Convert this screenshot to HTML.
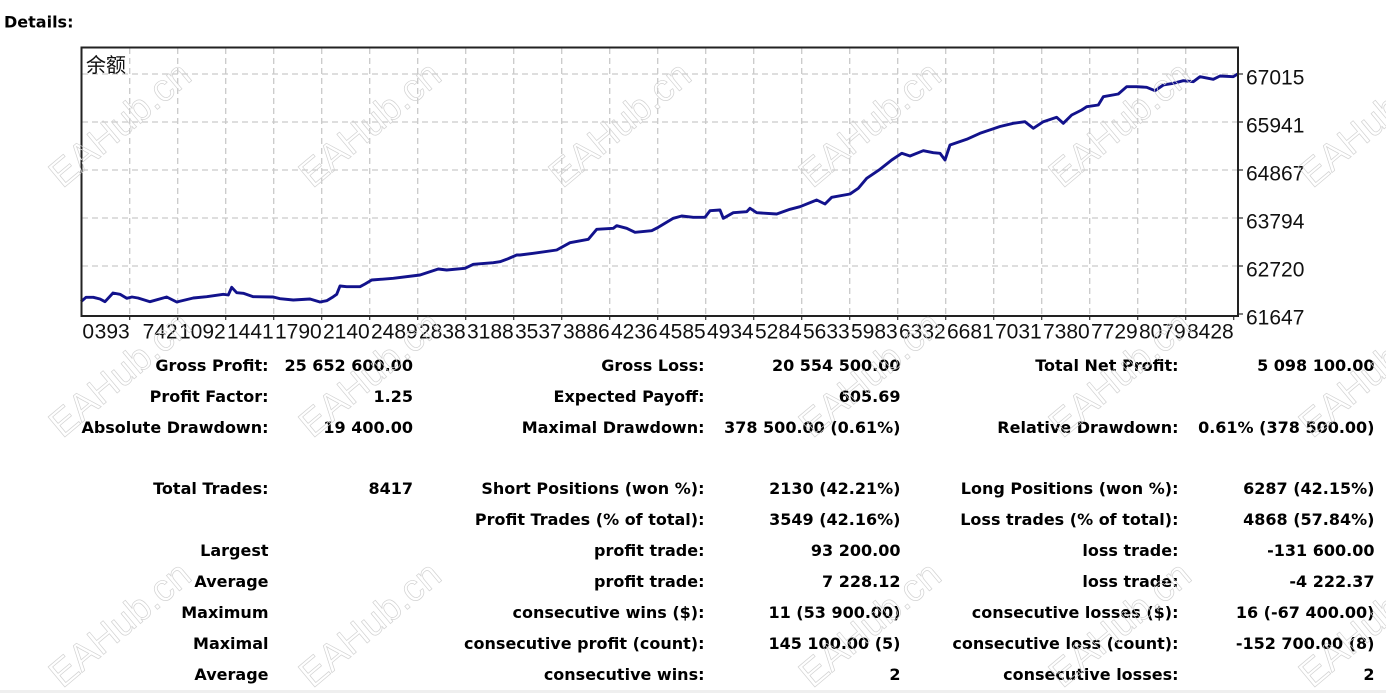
<!DOCTYPE html>
<html><head><meta charset="utf-8"><style>
html,body{margin:0;padding:0;background:#fff;}
svg{display:block;}
.t{font-family:"DejaVu Sans","Liberation Sans",sans-serif;font-weight:bold;font-size:16px;fill:#000;}
.ax{font-family:"Liberation Sans",sans-serif;font-size:21px;fill:#111;}
.wm{font-family:"Liberation Sans",sans-serif;font-size:38px;fill:none;stroke:#d2d2d2;stroke-width:0.7;}
</style></head><body>
<svg width="1386" height="693" viewBox="0 0 1386 693" xmlns="http://www.w3.org/2000/svg">
<rect x="0" y="0" width="1386" height="693" fill="#fff"/>
<rect x="0" y="690" width="1386" height="3" fill="#efefef"/>
<text class="t" x="4" y="27.5">Details:</text>

<!-- grid -->
<g stroke="#c9c9c9" stroke-width="1.3" stroke-dasharray="6,4" fill="none">
<path d="M82 74H1237M82 122H1237M82 170H1237M82 218H1237M82 266H1237"/>
<path d="M129.7 48V315M177.7 48V315M225.7 48V315M273.7 48V315M321.7 48V315M369.7 48V315M417.7 48V315M465.7 48V315M513.7 48V315M561.7 48V315M609.7 48V315M657.7 48V315M705.7 48V315M753.7 48V315M801.7 48V315M849.7 48V315M897.7 48V315M945.7 48V315M993.7 48V315M1041.7 48V315M1089.7 48V315M1137.7 48V315M1185.7 48V315"/>
</g>
<!-- ticks -->
<g stroke="#333" stroke-width="1.2">
<path d="M1238 74H1243M1238 122H1243M1238 170H1243M1238 218H1243M1238 266H1243M1238 314H1243"/>
<path d="M129.7 316V320M177.7 316V320M225.7 316V320M273.7 316V320M321.7 316V320M369.7 316V320M417.7 316V320M465.7 316V320M513.7 316V320M561.7 316V320M609.7 316V320M657.7 316V320M705.7 316V320M753.7 316V320M801.7 316V320M849.7 316V320M897.7 316V320M945.7 316V320M993.7 316V320M1041.7 316V320M1089.7 316V320M1137.7 316V320M1185.7 316V320M1233.7 316V320"/>
</g>

<!-- series -->
<polyline fill="none" stroke="#12128c" stroke-width="2.9" stroke-linejoin="round" points="
81,301.7 86,297.3 93.3,297.3 100,299 105,301.7 113,293 120,294.3 126.7,298.3 132,297 138,298 150,301.7 166.7,297 176.7,302 193.3,298 206.7,296.7 223.3,294.3 228.3,295 231.7,287.3 236.7,292.7 243.3,293.3 253.3,296.7 273.3,297 280,298.7 293.3,300 310,299 320,302 326.7,300.7 333.3,296.7 336.7,294.3 340,286 346.7,286.7 360,286.7 365,284 371.7,280 393.3,278.3 420,275 438.3,269 446.7,270 465,268.3 473.3,264.3 493.3,262.7 500,261.7 506.7,259.3 516.7,255 520,255 533.3,253.3 556.7,250 570,242.7 588.3,239.3 596.7,229.3 613.3,228.3 616.7,225.7 626.7,228.3 635,232.3 651.7,230.7 658.3,227.3 673.3,218.3 681.7,216 693.3,217.3 705,217.3 710,210.7 720,210 723.3,218.3 733.3,212.7 746.7,211.7 750,208.3 756.7,212.7 776.7,214 790,209.3 800,206.7 816.7,200 825,204 831.7,197.3 850,194 858.3,188.3 866.7,178.3 880,169.3 891.7,160 901.7,153.3 910,156 923.3,150.7 933.3,152.7 940,153.3 945,160 950,145 966.7,139.3 980,133.3 1000,126.5 1013.3,123.3 1025,121.7 1033.3,128.3 1043.3,121.7 1056.7,117.3 1063.3,123.3 1071.7,115 1081.7,110 1086.7,106.7 1098.3,105 1103.3,96.7 1118.3,94 1126.7,86.7 1136.7,86.7 1146.7,87.3 1155,90.7 1163.3,85 1173.3,83.3 1183.3,80.7 1193.3,81.7 1200,76.7 1213.3,79.3 1220,76 1233.3,76.7 1237.7,74"/>

<!-- frame -->
<rect x="81.5" y="47.5" width="1156.5" height="268.5" fill="none" stroke="#222" stroke-width="2"/>
<text x="86" y="72" style="font-family:'Liberation Sans','Noto Sans CJK SC',sans-serif;font-size:20px;fill:#111;">余额</text>

<!-- y labels -->
<g class="ax">
<text x="1246" y="84.5">67015</text>
<text x="1246" y="132.5">65941</text>
<text x="1246" y="180.5">64867</text>
<text x="1246" y="228.5">63794</text>
<text x="1246" y="276.5">62720</text>
<text x="1246" y="324.5">61647</text>
</g>
<!-- x labels -->
<g class="ax" text-anchor="end">
<text x="94" y="338.5">0</text>
<text x="129.7" y="338.5">393</text>
<text x="177.7" y="338.5">742</text>
<text x="225.7" y="338.5">1092</text>
<text x="273.7" y="338.5">1441</text>
<text x="321.7" y="338.5">1790</text>
<text x="369.7" y="338.5">2140</text>
<text x="417.7" y="338.5">2489</text>
<text x="465.7" y="338.5">2838</text>
<text x="513.7" y="338.5">3188</text>
<text x="561.7" y="338.5">3537</text>
<text x="609.7" y="338.5">3886</text>
<text x="657.7" y="338.5">4236</text>
<text x="705.7" y="338.5">4585</text>
<text x="753.7" y="338.5">4934</text>
<text x="801.7" y="338.5">5284</text>
<text x="849.7" y="338.5">5633</text>
<text x="897.7" y="338.5">5983</text>
<text x="945.7" y="338.5">6332</text>
<text x="993.7" y="338.5">6681</text>
<text x="1041.7" y="338.5">7031</text>
<text x="1089.7" y="338.5">7380</text>
<text x="1137.7" y="338.5">7729</text>
<text x="1185.7" y="338.5">8079</text>
<text x="1233.7" y="338.5">8428</text>
</g>

<!-- table -->
<g class="t" text-anchor="end">
<text x="268.5" y="371">Gross Profit:</text>
<text x="413" y="371">25 652 600.00</text>
<text x="704.5" y="371">Gross Loss:</text>
<text x="900.5" y="371">20 554 500.00</text>
<text x="1178.5" y="371">Total Net Profit:</text>
<text x="1374.5" y="371">5 098 100.00</text>

<text x="268.5" y="402">Profit Factor:</text>
<text x="413" y="402">1.25</text>
<text x="704.5" y="402">Expected Payoff:</text>
<text x="900.5" y="402">605.69</text>

<text x="268.5" y="433">Absolute Drawdown:</text>
<text x="413" y="433">19 400.00</text>
<text x="704.5" y="433">Maximal Drawdown:</text>
<text x="900.5" y="433">378 500.00 (0.61%)</text>
<text x="1178.5" y="433">Relative Drawdown:</text>
<text x="1374.5" y="433">0.61% (378 500.00)</text>

<text x="268.5" y="494">Total Trades:</text>
<text x="413" y="494">8417</text>
<text x="704.5" y="494">Short Positions (won %):</text>
<text x="900.5" y="494">2130 (42.21%)</text>
<text x="1178.5" y="494">Long Positions (won %):</text>
<text x="1374.5" y="494">6287 (42.15%)</text>

<text x="704.5" y="525">Profit Trades (% of total):</text>
<text x="900.5" y="525">3549 (42.16%)</text>
<text x="1178.5" y="525">Loss trades (% of total):</text>
<text x="1374.5" y="525">4868 (57.84%)</text>

<text x="268.5" y="556">Largest</text>
<text x="704.5" y="556">profit trade:</text>
<text x="900.5" y="556">93 200.00</text>
<text x="1178.5" y="556">loss trade:</text>
<text x="1374.5" y="556">-131 600.00</text>

<text x="268.5" y="587">Average</text>
<text x="704.5" y="587">profit trade:</text>
<text x="900.5" y="587">7 228.12</text>
<text x="1178.5" y="587">loss trade:</text>
<text x="1374.5" y="587">-4 222.37</text>

<text x="268.5" y="618">Maximum</text>
<text x="704.5" y="618">consecutive wins ($):</text>
<text x="900.5" y="618">11 (53 900.00)</text>
<text x="1178.5" y="618">consecutive losses ($):</text>
<text x="1374.5" y="618">16 (-67 400.00)</text>

<text x="268.5" y="649">Maximal</text>
<text x="704.5" y="649">consecutive profit (count):</text>
<text x="900.5" y="649">145 100.00 (5)</text>
<text x="1178.5" y="649">consecutive loss (count):</text>
<text x="1374.5" y="649">-152 700.00 (8)</text>

<text x="268.5" y="680">Average</text>
<text x="704.5" y="680">consecutive wins:</text>
<text x="900.5" y="680">2</text>
<text x="1178.5" y="680">consecutive losses:</text>
<text x="1374.5" y="680">2</text>
</g>

<!-- watermarks -->
<g class="wm" text-anchor="middle">
<text transform="translate(128,134) rotate(-40)">EAHub.cn</text>
<text transform="translate(378,134) rotate(-40)">EAHub.cn</text>
<text transform="translate(628,134) rotate(-40)">EAHub.cn</text>
<text transform="translate(878,134) rotate(-40)">EAHub.cn</text>
<text transform="translate(1128,134) rotate(-40)">EAHub.cn</text>
<text transform="translate(1378,134) rotate(-40)">EAHub.cn</text>
<text transform="translate(128,384) rotate(-40)">EAHub.cn</text>
<text transform="translate(378,384) rotate(-40)">EAHub.cn</text>
<text transform="translate(878,384) rotate(-40)">EAHub.cn</text>
<text transform="translate(1128,384) rotate(-40)">EAHub.cn</text>
<text transform="translate(1378,384) rotate(-40)">EAHub.cn</text>
<text transform="translate(128,634) rotate(-40)">EAHub.cn</text>
<text transform="translate(378,634) rotate(-40)">EAHub.cn</text>
<text transform="translate(878,634) rotate(-40)">EAHub.cn</text>
<text transform="translate(1128,634) rotate(-40)">EAHub.cn</text>
<text transform="translate(1378,634) rotate(-40)">EAHub.cn</text>
</g>
</svg>
</body></html>
